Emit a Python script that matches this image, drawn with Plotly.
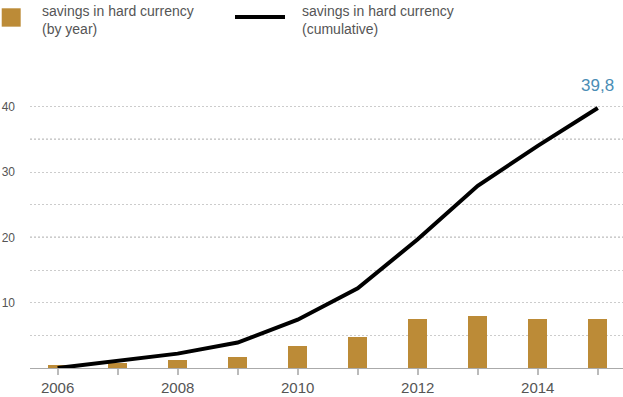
import plotly.graph_objects as go

years = [2006, 2007, 2008, 2009, 2010, 2011, 2012, 2013, 2014, 2015]
by_year = [0.5, 0.7, 1.2, 1.7, 3.4, 4.7, 7.5, 8.0, 7.55, 7.55]
cumulative = [0.0, 1.1, 2.2, 3.9, 7.4, 12.2, 19.7, 27.9, 34.0, 39.8]
y_ticks = [5, 10, 15, 20, 25, 30, 35, 40, 45]
y_tick_labels = ["", "10", "", "20", "", "30", "", "40", ""]
x_tick_labels = [str(y) if y % 2 == 0 else "" for y in years]
dark_grid = [20, 35]
legend_bar_label = "savings in hard currency<br>(by year)"
legend_line_label = "savings in hard currency<br>(cumulative)"

GOLD = "#BC8B37"
TEXT = "#555555"
FONT = "Liberation Sans, Arial, Helvetica, sans-serif"

fig = go.Figure()
fig.add_trace(go.Bar(x=years, y=by_year, width=0.32, marker=dict(color=GOLD, line=dict(width=0)),
                     showlegend=False, hoverinfo="skip"))
fig.add_trace(go.Scatter(x=years, y=cumulative, mode="lines", line=dict(color="#000000", width=4),
                         showlegend=False, hoverinfo="skip"))

# darker dotted gridlines
for v in dark_grid:
    fig.add_shape(type="line", xref="paper", yref="y", x0=0, x1=1, y0=v, y1=v,
                  line=dict(color="#444444", width=1, dash="2px,2px"), layer="below")

# end label
fig.add_annotation(x=years[-1], y=cumulative[-1], text=f"{cumulative[-1]:.1f}".replace(".", ","),
                   showarrow=False, yshift=22, font=dict(family=FONT, size=17, color="#4A8DB5"))

# custom legend
fig.add_shape(type="rect", xref="paper", yref="paper", x0=-0.0477, x1=-0.0157,
              y0=1.161, y1=1.2235, line=dict(width=0), fillcolor=GOLD)
fig.add_annotation(xref="paper", yref="paper", x=10/593, y=1.248, text=legend_bar_label,
                   showarrow=False, xanchor="left", yanchor="top", align="left",
                   font=dict(family=FONT, size=14, color=TEXT))
fig.add_shape(type="line", xref="paper", yref="paper", x0=205/593, x1=255/593,
              y0=1.194, y1=1.194, line=dict(color="#000000", width=4))
fig.add_annotation(xref="paper", yref="paper", x=270/593, y=1.248, text=legend_line_label,
                   showarrow=False, xanchor="left", yanchor="top", align="left",
                   font=dict(family=FONT, size=14, color=TEXT))

fig.update_layout(
    width=623, height=397,
    margin=dict(l=30, r=0, t=74, b=29),
    plot_bgcolor="white", paper_bgcolor="white",
    bargap=0,
    xaxis=dict(range=[2005.54, 2015.42], tickvals=years, ticktext=x_tick_labels,
               showgrid=False, zeroline=False, showline=True, linecolor="#aaaaaa", linewidth=1,
               ticks="outside", ticklen=6, tickwidth=1.5, tickcolor="#bbbbbb",
               tickfont=dict(family=FONT, size=15, color=TEXT), fixedrange=True),
    yaxis=dict(range=[0, 45], tickvals=y_ticks, ticktext=y_tick_labels,
               showgrid=True, gridcolor="#cccccc", gridwidth=1, griddash="2px,2px",
               zeroline=False, showline=False, ticks="",
               ticklabelstandoff=14,
               tickfont=dict(family=FONT, size=12, color=TEXT), fixedrange=True),
)

fig.write_html("out.html", config={"displayModeBar": False},
               post_script="document.body.style.margin='0';document.body.style.overflow='hidden';")
